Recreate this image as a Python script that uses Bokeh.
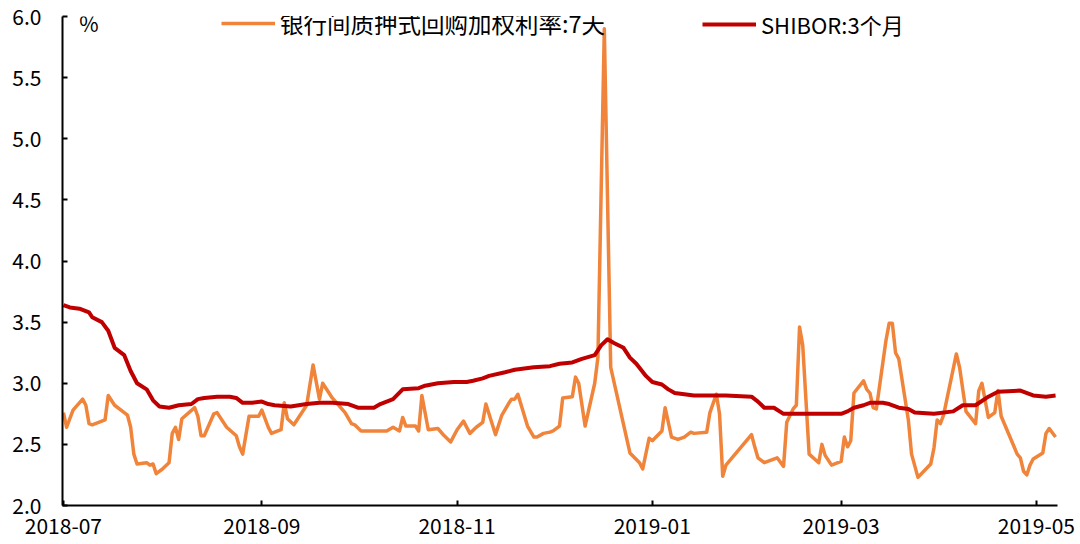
import pandas as pd
from bokeh.plotting import figure
from bokeh.models import (Range1d, FixedTicker, DatetimeTickFormatter, Legend,
                          LegendItem, Label, ColumnDataSource, NumeralTickFormatter)
from bokeh.embed import file_html
from bokeh.resources import INLINE

# ---------------- data ----------------
repo_dates = [
    "2018-07-01", "2018-07-02", "2018-07-04", "2018-07-07", "2018-07-08", "2018-07-09", "2018-07-10",
    "2018-07-13", "2018-07-14", "2018-07-15", "2018-07-17", "2018-07-19", "2018-07-21", "2018-07-22",
    "2018-07-23", "2018-07-24", "2018-07-27", "2018-07-28", "2018-07-29", "2018-07-30", "2018-08-01",
    "2018-08-03", "2018-08-04", "2018-08-05", "2018-08-06", "2018-08-07", "2018-08-11", "2018-08-12",
    "2018-08-13", "2018-08-14", "2018-08-17", "2018-08-18", "2018-08-21", "2018-08-24", "2018-08-25",
    "2018-08-26", "2018-08-28", "2018-08-31", "2018-09-01", "2018-09-03", "2018-09-04", "2018-09-07",
    "2018-09-08", "2018-09-09", "2018-09-11", "2018-09-15", "2018-09-17", "2018-09-19", "2018-09-20",
    "2018-09-23", "2018-09-27", "2018-09-29", "2018-09-30", "2018-10-02", "2018-10-06", "2018-10-07",
    "2018-10-09", "2018-10-10", "2018-10-12", "2018-10-14", "2018-10-15", "2018-10-16", "2018-10-19",
    "2018-10-20", "2018-10-21", "2018-10-23", "2018-10-26", "2018-10-28", "2018-10-30", "2018-11-01",
    "2018-11-03", "2018-11-05", "2018-11-07", "2018-11-09", "2018-11-10", "2018-11-13", "2018-11-15",
    "2018-11-17", "2018-11-18", "2018-11-19", "2018-11-20", "2018-11-23", "2018-11-25", "2018-11-26",
    "2018-11-28", "2018-11-30", "2018-12-01", "2018-12-03", "2018-12-04", "2018-12-07", "2018-12-08",
    "2018-12-09", "2018-12-11", "2018-12-14", "2018-12-15", "2018-12-17", "2018-12-19", "2018-12-25",
    "2018-12-28", "2018-12-29", "2018-12-31", "2019-01-01", "2019-01-04", "2019-01-05", "2019-01-07",
    "2019-01-09", "2019-01-11", "2019-01-13", "2019-01-14", "2019-01-18", "2019-01-19", "2019-01-21",
    "2019-01-22", "2019-01-23", "2019-01-24", "2019-02-01", "2019-02-02", "2019-02-03", "2019-02-05",
    "2019-02-09", "2019-02-11", "2019-02-12", "2019-02-14", "2019-02-15", "2019-02-16", "2019-02-17",
    "2019-02-19", "2019-02-22", "2019-02-23", "2019-02-24", "2019-02-26", "2019-03-01", "2019-03-02",
    "2019-03-03", "2019-03-04", "2019-03-05", "2019-03-08", "2019-03-09", "2019-03-10", "2019-03-11",
    "2019-03-12", "2019-03-15", "2019-03-16", "2019-03-17", "2019-03-18", "2019-03-19", "2019-03-22",
    "2019-03-23", "2019-03-25", "2019-03-29", "2019-03-30", "2019-03-31", "2019-04-01", "2019-04-02",
    "2019-04-06", "2019-04-07", "2019-04-09", "2019-04-12", "2019-04-13", "2019-04-14", "2019-04-16",
    "2019-04-18", "2019-04-19", "2019-04-20", "2019-04-25", "2019-04-26", "2019-04-27", "2019-04-28",
    "2019-04-29", "2019-04-30", "2019-05-03", "2019-05-04", "2019-05-05", "2019-05-07",
]
repo_values = [
    2.76, 2.64, 2.78, 2.87, 2.82, 2.67, 2.66,
    2.69, 2.70, 2.90, 2.82, 2.78, 2.74, 2.64,
    2.42, 2.34, 2.35, 2.33, 2.34, 2.26, 2.30,
    2.35, 2.59, 2.64, 2.54, 2.71, 2.80, 2.73,
    2.57, 2.57, 2.75, 2.76, 2.64, 2.57, 2.48,
    2.42, 2.73, 2.73, 2.78, 2.64, 2.59, 2.62,
    2.84, 2.71, 2.66, 2.82, 3.15, 2.87, 3.00,
    2.88, 2.76, 2.67, 2.66, 2.61, 2.61, 2.61,
    2.61, 2.61, 2.64, 2.61, 2.72, 2.65, 2.65,
    2.61, 2.90, 2.62, 2.63, 2.57, 2.52, 2.62,
    2.69, 2.59, 2.64, 2.68, 2.83, 2.58, 2.74,
    2.83, 2.87, 2.87, 2.91, 2.65, 2.56, 2.56,
    2.59, 2.60, 2.61, 2.65, 2.88, 2.89, 3.05,
    3.00, 2.65, 3.00, 3.21, 5.90, 3.13, 2.43,
    2.35, 2.30, 2.55, 2.53, 2.61, 2.80, 2.56,
    2.54, 2.56, 2.60, 2.59, 2.60, 2.76, 2.91,
    2.75, 2.24, 2.33, 2.58, 2.48, 2.39, 2.35,
    2.39, 2.32, 2.68, 2.79, 2.82, 3.46, 3.31,
    2.42, 2.35, 2.50, 2.41, 2.33, 2.36, 2.56,
    2.48, 2.53, 2.92, 3.02, 2.95, 2.92, 2.80,
    2.79, 3.35, 3.49, 3.49, 3.25, 3.20, 2.70,
    2.42, 2.23, 2.34, 2.47, 2.70, 2.67, 2.74,
    3.24, 3.13, 2.77, 2.67, 2.94, 3.00, 2.72,
    2.76, 2.94, 2.73, 2.42, 2.39, 2.28, 2.25,
    2.33, 2.38, 2.43, 2.59, 2.63, 2.56,
]

shibor_dates = [
    "2018-07-01", "2018-07-03", "2018-07-06", "2018-07-09", "2018-07-10", "2018-07-13", "2018-07-15",
    "2018-07-17", "2018-07-20", "2018-07-22", "2018-07-24", "2018-07-27", "2018-07-29", "2018-07-31",
    "2018-08-03", "2018-08-06", "2018-08-10", "2018-08-12", "2018-08-14", "2018-08-18", "2018-08-22",
    "2018-08-24", "2018-08-26", "2018-08-29", "2018-09-01", "2018-09-03", "2018-09-05", "2018-09-10",
    "2018-09-15", "2018-09-19", "2018-09-23", "2018-09-28", "2018-10-01", "2018-10-06", "2018-10-08",
    "2018-10-12", "2018-10-15", "2018-10-20", "2018-10-22", "2018-10-26", "2018-10-31", "2018-11-04",
    "2018-11-06", "2018-11-09", "2018-11-11", "2018-11-16", "2018-11-19", "2018-11-22", "2018-11-25",
    "2018-11-30", "2018-12-03", "2018-12-07", "2018-12-10", "2018-12-14", "2018-12-16", "2018-12-18",
    "2018-12-20", "2018-12-23", "2018-12-25", "2018-12-27", "2018-12-30", "2019-01-01", "2019-01-04",
    "2019-01-06", "2019-01-08", "2019-01-11", "2019-01-14", "2019-01-18", "2019-01-24", "2019-02-01",
    "2019-02-03", "2019-02-05", "2019-02-08", "2019-02-11", "2019-02-17", "2019-02-23", "2019-03-01",
    "2019-03-03", "2019-03-05", "2019-03-08", "2019-03-10", "2019-03-14", "2019-03-16", "2019-03-19",
    "2019-03-22", "2019-03-24", "2019-03-30", "2019-04-05", "2019-04-08", "2019-04-12", "2019-04-16",
    "2019-04-19", "2019-04-26", "2019-04-30", "2019-05-04", "2019-05-07",
]
shibor_values = [
    3.64, 3.62, 3.61, 3.58, 3.54, 3.50, 3.43,
    3.29, 3.23, 3.10, 3.00, 2.95, 2.86, 2.81,
    2.80, 2.82, 2.83, 2.87, 2.88, 2.89, 2.89,
    2.88, 2.84, 2.84, 2.85, 2.83, 2.82, 2.81,
    2.83, 2.84, 2.84, 2.83, 2.80, 2.80, 2.83,
    2.87, 2.95, 2.96, 2.98, 3.00, 3.01, 3.01,
    3.02, 3.04, 3.06, 3.09, 3.11, 3.12, 3.13,
    3.14, 3.16, 3.17, 3.20, 3.23, 3.31, 3.36,
    3.33, 3.29, 3.21, 3.16, 3.06, 3.01, 2.99,
    2.95, 2.92, 2.91, 2.90, 2.90, 2.90, 2.89,
    2.85, 2.80, 2.80, 2.75, 2.75, 2.75, 2.75,
    2.77, 2.80, 2.82, 2.84, 2.84, 2.83, 2.80,
    2.79, 2.76, 2.75, 2.77, 2.82, 2.82, 2.89,
    2.93, 2.94, 2.90, 2.89, 2.90,
]

x_tick_dates = ["2018-07-01", "2018-09-01", "2018-11-01", "2019-01-01", "2019-03-01", "2019-05-01"]
y_ticks = [2.0, 2.5, 3.0, 3.5, 4.0, 4.5, 5.0, 5.5, 6.0]
repo_name = "银行间质押式回购加权利率:7天"
shibor_name = "SHIBOR:3个月"
unit_label = "%"

# ---------------- figure ----------------
FONT = "Noto Sans CJK SC"
t0 = pd.Timestamp("2018-07-01")
x_start = t0 - pd.Timedelta(hours=7)
x_end = t0 + pd.Timedelta(days=310.6)

p = figure(
    x_axis_type="datetime", output_backend="svg", toolbar_location=None,
    frame_width=995, frame_height=489,
    min_border_left=62, min_border_right=20, min_border_top=16, min_border_bottom=36,
    x_range=Range1d(x_start, x_end), y_range=Range1d(2.0, 6.0),
)
p.outline_line_color = None
p.xgrid.visible = False
p.ygrid.visible = False
p.background_fill_color = "white"
p.border_fill_color = "white"

src_repo = ColumnDataSource(dict(x=pd.to_datetime(repo_dates), y=repo_values))
src_shibor = ColumnDataSource(dict(x=pd.to_datetime(shibor_dates), y=shibor_values))

r_repo = p.line("x", "y", source=src_repo, line_color="#F0843A", line_width=3.5, line_join="round")
r_shibor = p.line("x", "y", source=src_shibor, line_color="#C00000", line_width=4, line_join="round")

# axes
ticks_ms = [pd.Timestamp(d).value / 1e6 for d in x_tick_dates]
p.xaxis.ticker = FixedTicker(ticks=ticks_ms)
p.xaxis.formatter = DatetimeTickFormatter(
    milliseconds="%Y-%m", seconds="%Y-%m", minsec="%Y-%m", minutes="%Y-%m", hourmin="%Y-%m",
    hours="%Y-%m", days="%Y-%m", months="%Y-%m", years="%Y-%m")
p.yaxis.ticker = FixedTicker(ticks=y_ticks)
p.yaxis.formatter = NumeralTickFormatter(format="0.0")

for ax in (p.xaxis[0], p.yaxis[0]):
    ax.axis_line_color = "black"
    ax.axis_line_width = 2
    ax.major_tick_line_color = "black"
    ax.major_tick_line_width = 2
    ax.major_tick_in = 5
    ax.major_tick_out = 0
    ax.minor_tick_line_color = None
    ax.major_label_text_font = FONT
    ax.major_label_text_font_size = "21px"
    ax.major_label_text_color = "black"
p.xaxis.major_label_standoff = 12
p.yaxis.major_label_standoff = 21

# unit label
p.add_layout(Label(x=t0 + pd.Timedelta(days=8), y=5.95, text=unit_label,
                   text_font=FONT, text_font_size="21px", text_align="center",
                   text_baseline="middle", text_color="black"))

# legends
def make_legend(item, loc, size):
    return Legend(items=[item], location=loc, orientation="horizontal",
                  border_line_color=None, background_fill_alpha=0,
                  padding=0, margin=0, glyph_width=54, glyph_height=30,
                  label_standoff=5, label_text_font=FONT, label_text_font_size=size,
                  label_text_color="black", label_height=30)

p.add_layout(make_legend(LegendItem(label=repo_name, renderers=[r_repo]), (159, 465), "23.5px"))
p.add_layout(make_legend(LegendItem(label=shibor_name, renderers=[r_shibor]), (640, 465), "22px"))

open("out.html", "w").write(file_html(p, INLINE))
